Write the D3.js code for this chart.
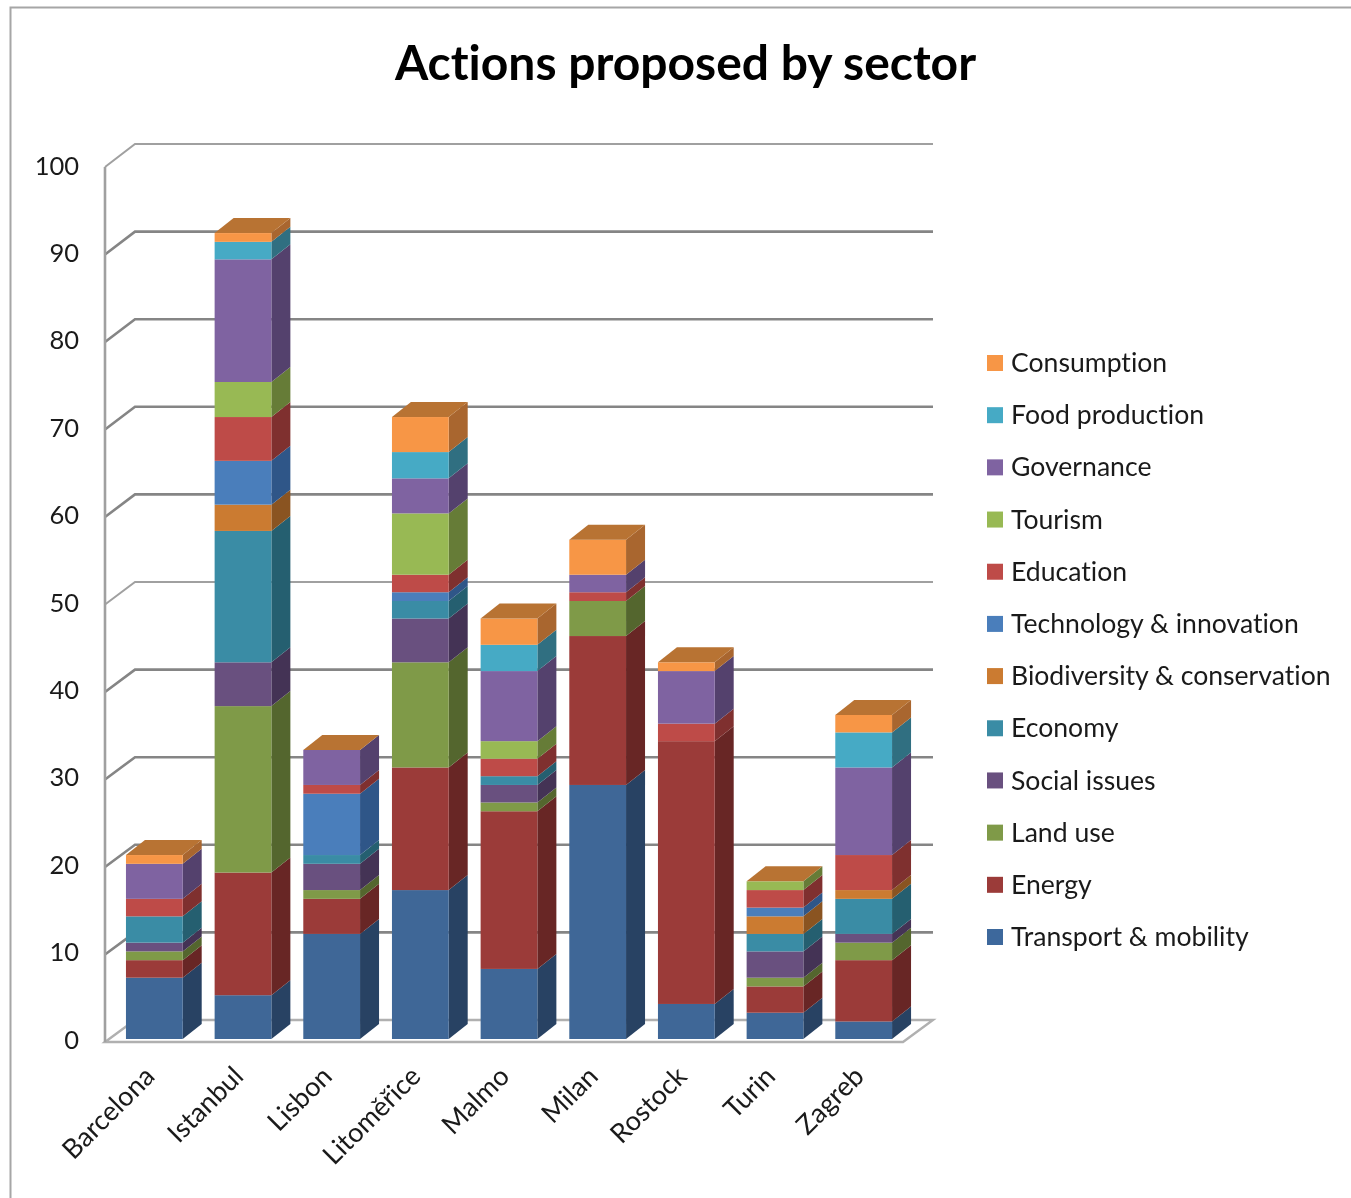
<!DOCTYPE html>
<html><head><meta charset="utf-8">
<script src="https://cdn.jsdelivr.net/npm/d3@7/dist/d3.min.js"></script>
<style>
html,body{margin:0;padding:0;background:#fff;overflow:hidden}
svg{display:block;filter:blur(.6px)}
text{font-family:Lato,"Open Sans",sans-serif;fill:#1a1a1a;font-variant-ligatures:none}
</style></head><body>
<script>
const cities = ["Barcelona","Istanbul","Lisbon","Litoměřice","Malmo","Milan","Rostock","Turin","Zagreb"];
const seriesNames = ["Transport & mobility","Energy","Land use","Social issues","Economy","Biodiversity & conservation","Technology & innovation","Education","Tourism","Governance","Food production","Consumption"];
const transport = [7,5,12,17,8,29,4,3,2];
const energy    = [2,14,4,14,18,17,30,3,7];
const landUse   = [1,19,1,12,1,4,0,1,2];
const social    = [1,5,3,5,2,0,0,3,1];
const economy   = [3,15,1,2,1,0,0,2,4];
const biodiv    = [0,3,0,0,0,0,0,2,1];
const tech      = [0,5,7,1,0,0,0,1,0];
const education = [2,5,1,2,2,1,2,2,4];
const tourism   = [0,4,0,7,2,0,0,1,0];
const governance= [4,14,4,4,8,2,6,0,10];
const food      = [0,2,0,3,3,0,0,0,4];
const consumption=[1,1,0,4,3,4,1,0,2];
const frontColors = ["#3f6797","#9b3b39","#7f9a48","#69507f","#3a8ca5","#cb7b31","#4a7ebb","#be4b48","#98b954","#7f63a1","#46aac5","#f79646"];
const sideColors  = ["#284263","#682625","#54662e","#443355","#255f70","#8a5421","#2f5688","#7f302f","#667c37","#54416d","#306f81","#a9662f"];
const topColor = "#b87333";
const legendColors = ["#3d689c","#9b3b39","#7f9a48","#69507f","#3a8ca5","#cb7b31","#4a7ebb","#be4b48","#98b954","#7f63a1","#46aac5","#f79646"];
const yTicks = [0,10,20,30,40,50,60,70,80,90,100];

const allSeries = [transport,energy,landUse,social,economy,biodiv,tech,education,tourism,governance,food,consumption];
const table = cities.map((c,i)=>{const r={city:c};seriesNames.forEach((s,k)=>r[s]=allSeries[k][i]);return r;});
const stacked = d3.stack().keys(seriesNames)(table);

const W=1351,H=1198;
const svg=d3.select("body").append("svg").attr("width",W).attr("height",H);

// frame
svg.append("path").attr("d",`M10.5,1198V7.5H1351`).attr("fill","none").attr("stroke","#a6a6a6").attr("stroke-width",2);

svg.append("text").attr("x",685.5).attr("y",80).attr("text-anchor","middle")
  .style("font-size","48px").style("font-weight",700).style("fill","#000").text("Actions proposed by sector");

const x=d3.scaleBand().domain(cities).range([105,903]).paddingInner(0.36).paddingOuter(0.18);
const y=d3.scaleLinear().domain([0,100]).range([1042,167]);
const yLabel=d3.scaleLinear().domain([0,100]).range([1040,166]);
const wallDx=30, wallDy0=-22, wallDy100=-23;
const yBack=d3.scaleLinear().domain([0,100]).range([1042+wallDy0,167+wallDy100]);
const yBar=d3.scaleLinear().domain([0,100]).range([1039,163]);
const barDx=5, depthX=19, depthY=-15;

// gridlines on back wall with their diagonal ticks
const grid=svg.append("g").attr("fill","none");
grid.selectAll("path.g").data(yTicks.filter(t=>t>0)).join("path").attr("class","g")
  .attr("d",t=>`M105,${y(t)}L${105+wallDx},${yBack(t)}H${903+wallDx}`)
  .attr("stroke",t=>t===100||t===50?"#a0a0a0":"#858585").attr("stroke-width",t=>t===100||t===50?2:2.6);
// floor
grid.append("path").attr("d",`M105,${y(0)}L${105+wallDx},${yBack(0)}H${903+wallDx}L903,${y(0)}Z`)
  .attr("stroke","#b0b0b0").attr("stroke-width",2.4);
grid.append("path").attr("d",`M105,${y(100)}V${y(0)}`).attr("stroke","#a0a0a0").attr("stroke-width",2.6);

// bars
const bars=svg.append("g");
cities.forEach((c,i)=>{
  const x0=x(c)+barDx, w=x.bandwidth();
  const g=bars.append("g");
  stacked.forEach((s,k)=>{
    const [a,b]=s[i];
    if(b===a) return;
    const yb=yBar(a), yt=yBar(b);
    g.append("path").attr("fill",sideColors[k])
      .attr("d",`M${x0+w},${yb}L${x0+w+depthX},${yb+depthY}V${yt+depthY}L${x0+w},${yt}Z`);
    g.append("rect").attr("x",x0).attr("y",yt).attr("width",w).attr("height",yb-yt).attr("fill",frontColors[k]);
  });
  const tot=stacked[stacked.length-1][i][1], yt=yBar(tot);
  g.append("path").attr("fill",topColor)
    .attr("d",`M${x0},${yt}L${x0+depthX},${yt+depthY}H${x0+w+depthX}L${x0+w},${yt}Z`);
});

// y axis labels
const yAxis=svg.append("g").attr("transform","translate(79,0)")
  .call(d3.axisLeft(yLabel).tickValues(yTicks).tickSize(0).tickPadding(0));
yAxis.select(".domain").remove();
yAxis.selectAll("text").style("font-size","25.5px").attr("dy","0.32em").attr("y",0);

// x axis labels
const xAxis=svg.append("g").attr("transform","translate(0,1050)")
  .call(d3.axisBottom(x).tickSize(0).tickPadding(0));
xAxis.select(".domain").remove();
xAxis.selectAll("text").style("font-size","27px").attr("text-anchor","end").attr("dy",0).attr("y",0)
  .attr("transform","translate(7,28) rotate(-45)");

// legend
const legendOrder=seriesNames.map((n,k)=>({n,k})).reverse();
const ly=d3.scalePoint().domain(legendOrder.map(d=>d.n)).range([363,937]);
const lg=svg.append("g").selectAll("g").data(legendOrder).join("g").attr("transform",d=>`translate(987,${ly(d.n)})`);
lg.append("rect").attr("x",0).attr("y",-8).attr("width",16).attr("height",16).attr("fill",d=>legendColors[d.k]);
lg.append("text").attr("x",24).attr("dy","0.34em").style("font-size","26.6px").text(d=>d.n);
</script>
</body></html>
